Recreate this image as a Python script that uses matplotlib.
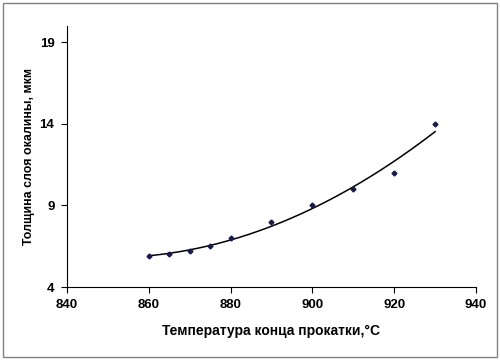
import numpy as np
import matplotlib
matplotlib.use('Agg')
import matplotlib.pyplot as plt
from matplotlib.patches import Rectangle

# data
temperature = [860, 865, 870, 875, 880, 890, 900, 910, 920, 930]
thickness = [5.9, 6.0, 6.2, 6.5, 7.0, 8.0, 9.0, 10.0, 11.0, 14.0]
x_ticks = [840, 860, 880, 900, 920, 940]
y_ticks = [4, 9, 14, 19]

plt.rcParams['font.family'] = ['Liberation Sans', 'DejaVu Sans']
plt.rcParams['font.weight'] = 'bold'

fig = plt.figure(figsize=(5, 3.6), dpi=100)
ax = fig.add_axes([67 / 500, 1 - 287 / 360, (476 - 67) / 500, (287 - 26) / 360])

# polynomial trendline (2nd order)
coef = np.polyfit(temperature, thickness, 2)
xs = np.linspace(min(temperature), max(temperature), 200)
ax.plot(xs, np.polyval(coef, xs), color='black', linewidth=1.1)

ax.plot(temperature, thickness, linestyle='none', marker='D', markersize=2.5,
        color='#1a1a4a')

ax.set_xlim(840, 940)
ax.set_ylim(4, 20)
ax.set_xticks(x_ticks)
ax.set_yticks(y_ticks)
ax.spines['top'].set_visible(False)
ax.spines['right'].set_visible(False)
ax.tick_params(direction='out', length=4, width=0.8, labelsize=9.5, pad=5)
for lbl in ax.get_xticklabels() + ax.get_yticklabels():
    lbl.set_fontweight('bold')

ax.set_xlabel('Температура конца прокатки,°С', fontsize=10, fontweight='bold', labelpad=9)
ax.set_ylabel('Толщина слоя окалины, мкм', fontsize=8.9, fontweight='bold', labelpad=3)

# outer frame
fig.patches.append(Rectangle((3 / 500, 3 / 360), 494 / 500, 354 / 360,
                             transform=fig.transFigure, fill=False,
                             edgecolor='#808080', linewidth=1))

fig.savefig('out.png', dpi=100)
